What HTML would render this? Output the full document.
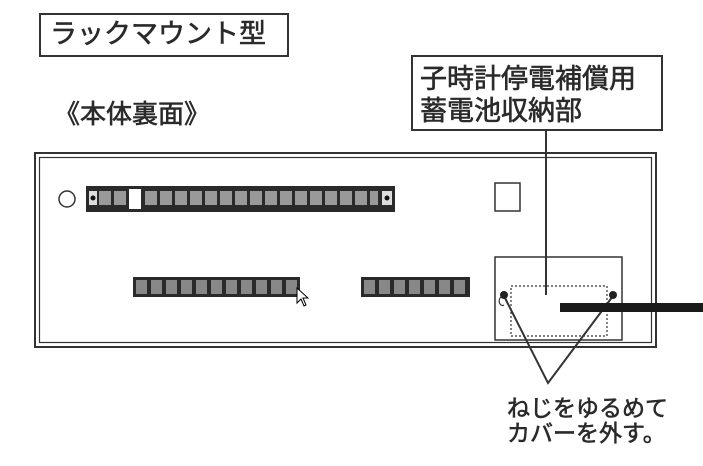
<!DOCTYPE html>
<html><head><meta charset="utf-8"><style>
body{margin:0;width:703px;height:466px;background:#fff;overflow:hidden;position:relative;font-family:"Liberation Sans","Noto Sans CJK JP",sans-serif;color:#2a2a2a}
.t{position:absolute;white-space:nowrap;line-height:1;-webkit-text-stroke:0.6px #2a2a2a}
</style></head><body>
<svg width="703" height="466" style="position:absolute;left:0;top:0">
<g fill="none" stroke="#333">
<rect x="40" y="14" width="248" height="42" stroke-width="2"/>
<rect x="412" y="56" width="250" height="74" stroke-width="2"/>
<line x1="546" y1="130" x2="546" y2="295" stroke-width="2"/>
<rect x="35" y="153" width="621" height="194" stroke-width="2"/>
<rect x="39.5" y="157.5" width="612" height="185" stroke-width="1.2"/>
<circle cx="67" cy="199" r="8" stroke-width="1.5"/>
<rect x="495" y="183" width="25" height="28" stroke-width="1.5"/>
<rect x="495" y="257" width="127" height="83" stroke-width="1.5"/>
<rect x="511" y="286" width="96" height="50" stroke-width="1.2" stroke-dasharray="2,2"/>
<polyline points="504,296 548,383 613,296" stroke-width="2"/>
<path d="M501,297 a3,4 0 0 0 3,8" stroke-width="1.2"/>
</g>
<circle cx="504" cy="295" r="4" fill="#222"/>
<circle cx="613" cy="295" r="4" fill="#222"/>
<rect x="560" y="303" width="143" height="9" fill="#1a1a1a"/>
<rect x="86" y="186" width="309" height="26" fill="#2a2a2a"/>
<g fill="#999">
<rect x="89" y="191" width="8" height="14" fill="#ddd"/>
<rect x="99" y="191" width="12" height="14"/><rect x="114" y="191" width="12" height="14"/>
<rect x="129" y="189" width="12" height="20" fill="#fff"/>
<rect x="145" y="191" width="12" height="14"/><rect x="160" y="191" width="12" height="14"/><rect x="175" y="191" width="12" height="14"/><rect x="190" y="191" width="12" height="14"/><rect x="205" y="191" width="12" height="14"/><rect x="220" y="191" width="12" height="14"/><rect x="235" y="191" width="12" height="14"/><rect x="250" y="191" width="12" height="14"/><rect x="265" y="191" width="12" height="14"/><rect x="280" y="191" width="12" height="14"/><rect x="295" y="191" width="12" height="14"/><rect x="310" y="191" width="12" height="14"/><rect x="325" y="191" width="12" height="14"/><rect x="340" y="191" width="12" height="14"/><rect x="355" y="191" width="12" height="14"/><rect x="370" y="191" width="8" height="14"/>
<rect x="382" y="191" width="10" height="14" fill="#ddd"/>
</g>
<circle cx="93" cy="198" r="2.5" fill="#111"/><circle cx="387" cy="198" r="2.5" fill="#111"/>
<rect x="133" y="277" width="167" height="20" fill="#2a2a2a"/>
<g fill="#888">
<rect x="136" y="280" width="11" height="14"/><rect x="151" y="280" width="11" height="14"/><rect x="166" y="280" width="11" height="14"/><rect x="181" y="280" width="11" height="14"/><rect x="196" y="280" width="11" height="14"/><rect x="211" y="280" width="11" height="14"/><rect x="226" y="280" width="11" height="14"/><rect x="241" y="280" width="11" height="14"/><rect x="256" y="280" width="11" height="14"/><rect x="271" y="280" width="11" height="14"/><rect x="286" y="280" width="11" height="14"/>
</g>
<rect x="361" y="277" width="109" height="20" fill="#2a2a2a"/>
<g fill="#888">
<rect x="364" y="280" width="11" height="14"/><rect x="379" y="280" width="11" height="14"/><rect x="394" y="280" width="11" height="14"/><rect x="409" y="280" width="11" height="14"/><rect x="424" y="280" width="11" height="14"/><rect x="439" y="280" width="11" height="14"/><rect x="454" y="280" width="11" height="14"/>
</g>
<polygon points="297,288 297,303 301,299 304,306 306,305 303,298 308,298" fill="#fff" stroke="#000" stroke-width="1"/>
</svg>
<div class="t" style="left:50px;top:21px;font-size:27px">ラックマウント型</div>
<div class="t" style="left:54px;top:101px;font-size:26px">《本体裏面》</div>
<div class="t" style="left:420px;top:63px;font-size:27px;line-height:32px">子時計停電補償用<br>蓄電池収納部</div>
<div class="t" style="left:507px;top:396px;font-size:23px;line-height:25px">ねじをゆるめて<br>カバーを外す。</div>
</body></html>
